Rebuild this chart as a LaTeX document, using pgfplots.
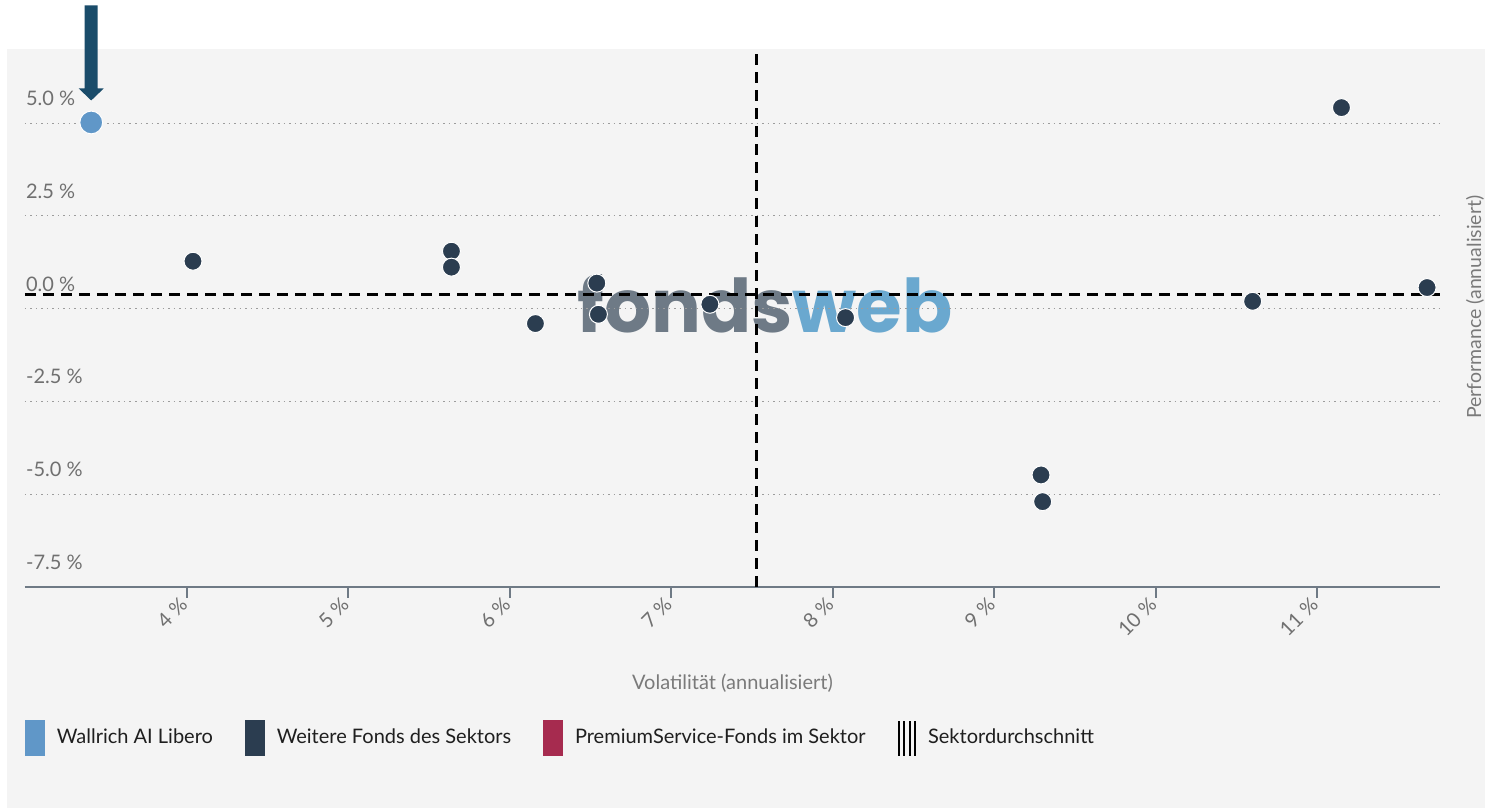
\documentclass[border=0pt]{standalone}
\usepackage{pgfplots}
\pgfplotsset{compat=1.18}
\usepackage{fontspec}
\setmainfont{Lato}
\newfontfamily\wmfont{Poppins}
\definecolor{bggray}{HTML}{F4F4F4}
\definecolor{wblue}{HTML}{6097C8}
\definecolor{fdark}{HTML}{2B3D50}
\definecolor{premium}{HTML}{A62B4F}
\definecolor{arrowc}{HTML}{1A4C6A}
\definecolor{axisline}{HTML}{6F7A85}
\definecolor{ticklab}{HTML}{707070}
\definecolor{gridc}{HTML}{9C9C9C}
\definecolor{wmgray}{HTML}{6E7A86}
\definecolor{wmblue}{HTML}{6AA8CF}
\definecolor{labgray}{HTML}{7A7A7A}
\definecolor{legtext}{HTML}{1F1F1F}
\begin{document}
\begin{tikzpicture}[x=0.5pt,y=0.5pt]
\useasboundingbox (0,0) rectangle (1485,808);
\fill[white] (0,0) rectangle (1485,808);
\fill[bggray] (7,0) rectangle (1485,759);
\node[anchor=base, inner sep=0pt, font={\wmfont\bfseries\fontsize{37pt}{37pt}\selectfont}] at (765,475) {\textcolor{wmgray}{fonds}\textcolor{wmblue}{web}};
\begin{axis}[
  at={(12.5pt,110.5pt)}, anchor=south west, scale only axis,
  width=707.5pt, height=269pt,
  xmin=3, xmax=11.76, ymin=-7.5, ymax=7,
  axis x line*=bottom, axis y line*=left,
  y axis line style={draw=none},
  x axis line style={draw=axisline, line width=1.25pt, -},
  xtick={4,5,6,7,8,9,10,11},
  xticklabels={4 \%,5 \%,6 \%,7 \%,8 \%,9 \%,10 \%,11 \%},
  ytick={-7.5,-5,-2.5,0,2.5,5},
  yticklabels={-7.5 \%,-5.0 \%,-2.5 \%,0.0 \%,2.5 \%,5.0 \%},
  tick align=outside,
  major tick length=5.5pt,
  xtick style={draw=axisline, line width=1pt},
  ytick style={draw=none},
  ymajorgrids,
  grid style={draw=gridc, line width=0.5pt, dash pattern=on 0.75pt off 2pt},
  xticklabel style={rotate=45, anchor=east, xshift=1.5pt, font=\fontsize{10pt}{12pt}\selectfont, text=ticklab},
  yticklabel style={anchor=base west, xshift=2.5pt, yshift=8.75pt, font=\fontsize{10pt}{12pt}\selectfont, text=ticklab},
  xlabel={Volatilität (annualisiert)},
  xlabel style={at={(axis description cs:0.5,-0.178)}, anchor=center, font=\fontsize{10pt}{12pt}\selectfont, text=labgray},
  ylabel={Performance (annualisiert)},
  ylabel style={at={(axis description cs:1.0247,0.52)}, anchor=center, font=\fontsize{9.75pt}{11pt}\selectfont, text=labgray},
  legend style={at={(axis description cs:0,-0.2807)}, anchor=west, draw=none, fill=none,
    legend columns=4, font=\fontsize{10pt}{12pt}\selectfont, text=legtext,
    inner sep=0pt, outer sep=0pt, nodes={inner sep=0pt},
    /tikz/every odd column/.append style={column sep=6pt},
    /tikz/every even column/.append style={column sep=16pt}},
  legend cell align=left,
  clip=false,
]
\addplot[forget plot, black, line width=1.5pt, dash pattern=on 5.5pt off 3.5pt] coordinates {(3,0.39) (11.76,0.39)};
\addplot[forget plot, black, line width=1.5pt, dash pattern=on 5.5pt off 3.5pt] coordinates {(7.53,-7.5) (7.53,7)};
\addplot[only marks, mark=*, mark size=5.7pt, mark options={fill=wblue, draw=white, line width=0.5pt},
  legend image code/.code={\fill[wblue] (0pt,-8.75pt) rectangle (9.5pt,8.75pt);}]
  coordinates {(3.41,5.02)};
\addlegendentry{Wallrich AI Libero}
\addplot[only marks, mark=*, mark size=4.5pt, mark options={fill=fdark, draw=white, line width=0.5pt},
  legend image code/.code={\fill[fdark] (0pt,-8.75pt) rectangle (9.5pt,8.75pt);}]
  coordinates {
  (4.04,1.28) (5.64,1.55) (5.64,1.12) (6.16,-0.40) (6.54,0.69) (6.55,-0.15)
  (7.24,0.12) (8.08,-0.24) (9.29,-4.48) (9.30,-5.20) (10.60,0.20) (11.15,5.42) (11.68,0.57)};
\addlegendentry{Weitere Fonds des Sektors}
\addlegendimage{legend image code/.code={\fill[premium] (0pt,-8.75pt) rectangle (9.5pt,8.75pt);}}
\addlegendentry{PremiumService-Fonds im Sektor}
\addlegendimage{legend image code/.code={
  \draw[black, line width=1pt] (0.5pt,-8.75pt) -- (0.5pt,8.75pt) (3.25pt,-8.75pt) -- (3.25pt,8.75pt)
  (6pt,-8.75pt) -- (6pt,8.75pt) (8.75pt,-8.75pt) -- (8.75pt,8.75pt);}}
\addlegendentry{Sektordurchschnitt}
\coordinate (W) at (axis cs:3.41,5.02);
\end{axis}
\fill[arrowc] ([shift={(-6.5,34)}]W) -- ([shift={(-6.5,117)}]W) -- ([shift={(6.5,117)}]W) -- ([shift={(6.5,34)}]W)
  -- ([shift={(12.5,34)}]W) -- ([shift={(0,22)}]W) -- ([shift={(-12.5,34)}]W) -- cycle;
\end{tikzpicture}
\end{document}
